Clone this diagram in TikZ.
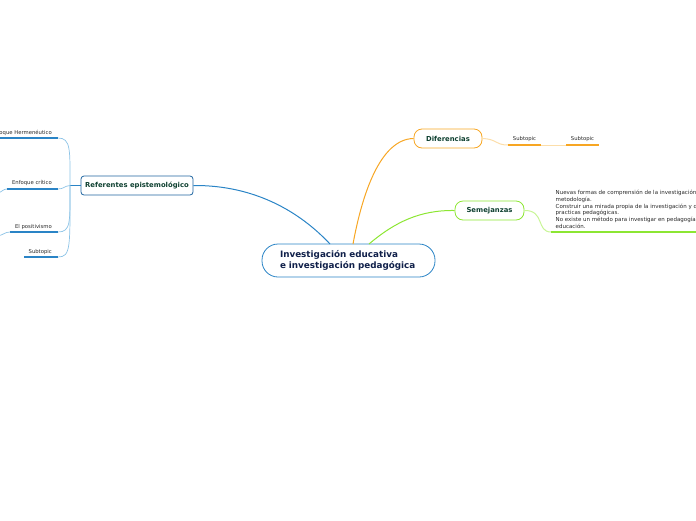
\documentclass[tikz,border=0pt]{standalone}
\usepackage{fontspec}
\setmainfont{DejaVu Sans}
\begin{document}
\begin{tikzpicture}[x=1pt,y=-1pt,
  mainblue/.style={draw={rgb,255:red,42;green,132;blue,198}},
  ttl/.style={font=\fontsize{8.8}{11}\selectfont\bfseries, text={rgb,255:red,16;green,32;blue,74}},
  topic/.style={font=\fontsize{6.85}{7}\selectfont\bfseries, text={rgb,255:red,14;green,64;blue,48}, inner sep=0pt, minimum height=19pt},
  leaf/.style={font=\fontsize{5.3}{6}\selectfont, text={rgb,255:red,40;green,40;blue,40}, inner sep=0pt},
  bconn/.style={draw={rgb,255:red,42;green,132;blue,198}, line width=1pt},
  lbconn/.style={draw={rgb,255:red,140;green,195;blue,230}, line width=0.7pt},
  bbar/.style={draw={rgb,255:red,42;green,132;blue,198}, line width=1.6pt},
  oconn/.style={draw={rgb,255:red,247;green,166;blue,35}, line width=1pt},
  loconn/.style={draw={rgb,255:red,252;green,222;blue,170}, line width=1pt},
  obar/.style={draw={rgb,255:red,247;green,166;blue,35}, line width=1.6pt},
  gconn/.style={draw={rgb,255:red,140;green,230;blue,50}, line width=1pt},
  lgconn/.style={draw={rgb,255:red,200;green,245;blue,150}, line width=1pt},
  gbar/.style={draw={rgb,255:red,140;green,230;blue,50}, line width=1.6pt}
]
\useasboundingbox (0,0) rectangle (696,520);
\clip (0,0) rectangle (696,520);

% central node
\node[mainblue, line width=0.8pt, fill=white, rounded corners=16pt, ttl, text width=137pt, inner xsep=18pt, inner ysep=0pt, minimum height=33pt, align=left] (c) at (348.5,260.5) {\raisebox{-1.5pt}{Investigación educativa}\\\raisebox{-1.5pt}{e investigación pedagógica}};

\coordinate (cb) at (330,244);
\coordinate (co) at (353,244);
\coordinate (cg) at (369,244);

% topic nodes
\node[topic, draw={rgb,255:red,30;green,100;blue,160}, line width=0.8pt, rounded corners=3pt, minimum width=112pt] (ref) at (137,185.5) {Referentes epistemológico};
\node[topic, draw={rgb,255:red,247;green,166;blue,35}, line width=0.8pt, rounded corners=8pt, minimum width=68pt] (dif) at (448,138.5) {Diferencias};
\node[topic, draw={rgb,255:red,140;green,230;blue,50}, line width=0.8pt, rounded corners=8pt, minimum width=69pt] (sem) at (489.5,210.5) {Semejanzas};

% main connectors
\draw[bconn] (cb) .. controls (300,212) and (255,185) .. (ref.east);
\draw[oconn] (co) .. controls (362,195) and (380,139) .. (dif.west);
\draw[gconn] (cg) .. controls (395,222) and (420,210) .. (sem.west);

% Referentes children
\coordinate (rj) at (70,185.5);
\draw[bconn, line width=0.8pt] (ref.west) -- (rj);

\coordinate (h1) at (58,138);
\coordinate (h0) at (-2,138);
\coordinate (e1) at (58,189);
\coordinate (e0) at (7,189);
\coordinate (p1) at (58,232);
\coordinate (p0) at (10,232);
\coordinate (s1) at (58,257);
\coordinate (s0) at (24,257);

\draw[lbconn] (rj) .. controls (70,150) and (71,138) .. (h1);
\draw[lbconn] (rj) .. controls (64,186) and (64,189) .. (e1);
\draw[lbconn] (rj) .. controls (70,222) and (71,232) .. (p1);
\draw[lbconn] (rj) .. controls (70,247) and (71,257) .. (s1);

\draw[bbar] (h0) -- (h1);
\draw[bbar] (e0) -- (e1);
\draw[bbar] (p0) -- (p1);
\draw[bbar] (s0) -- (s1);

\coordinate (eo) at (-2,193);
\coordinate (po) at (-2,236);
\draw[lbconn] (e0) .. controls (3,189) and (2,192) .. (eo);
\draw[lbconn] (p0) .. controls (5,232) and (3,235) .. (po);

\node[leaf, anchor=base east] (th) at (52,134) {Enfoque Hermenéutico};
\node[leaf, anchor=base east] (te) at (52,184) {Enfoque crítico};
\node[leaf, anchor=base east] (tp) at (52,228) {El positivismo};
\node[leaf, anchor=base east] (ts) at (52,253) {Subtopic};

% Diferencias children
\coordinate (d1a) at (508,145);
\coordinate (d1b) at (541,145);
\coordinate (d2a) at (566,145);
\coordinate (d2b) at (599,145);
\draw[loconn] (dif.east) .. controls (497,139) and (495,145) .. (d1a);
\draw[loconn] (d1b) -- (d2a);
\draw[obar] (d1a) -- (d1b);
\draw[obar] (d2a) -- (d2b);
\node[leaf, anchor=base] (dt1) at (524.5,140) {Subtopic};
\node[leaf, anchor=base] (dt2) at (582.5,140) {Subtopic};

% Semejanzas child
\coordinate (g1) at (551,232);
\coordinate (g2) at (700,232);
\draw[lgconn] (sem.east) .. controls (545,210) and (536,232) .. (g1);
\draw[gbar] (g1) -- (g2);
\node[leaf, anchor=north west, align=left, font=\fontsize{5.5}{6.7}\selectfont] (gt) at (555.5,190) {Nuevas formas de comprensión de la investigación y la\\metodología.\\Construir una mirada propia de la investigación y de las\\practicas pedagógicas.\\No existe un método para investigar en pedagogía y en\\educación.};
\end{tikzpicture}
\end{document}
